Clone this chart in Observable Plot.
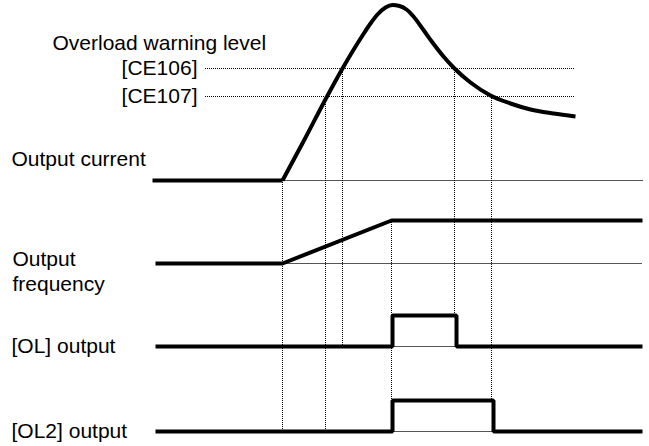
<!DOCTYPE html>
<html>
<head>
<meta charset="utf-8">
<script src="https://cdn.jsdelivr.net/npm/d3@7"></script>
<script src="https://cdn.jsdelivr.net/npm/@observablehq/plot@0.6"></script>
<style>
  html, body { margin: 0; padding: 0; background: #fff; }
  #chart svg { display: block; }
</style>
</head>
<body>
<div id="chart"></div>
<script>
// ---------------- DATA (time runs left→right, level = picture row, larger = lower) ----------------
// key instants on the time axis
const eventNames = ["begin", "rise", "up107", "up106", "accelEnd", "down106", "down107", "end"];
const eventTimes = [152, 282, 325, 342, 391, 454, 491, 642];

// overload warning levels
const warnNames  = ["[CE106]", "[CE107]"];
const warnLevels = [68, 96];

// output current (rise, peak, decay)
const currentTime  = [282, 304, 326, 342, 352, 362, 370, 377, 385, 392, 399, 406, 413, 423, 432, 443, 454, 470, 490, 510, 530, 553, 575];
const currentLevel = [180, 139, 97, 68, 51, 35, 23, 14, 7, 4.5, 5.5, 9, 16, 29.5, 42, 56, 68, 82, 95, 103, 109, 113, 116];
const currentIdle  = 180;

// output frequency (idle → ramp → plateau)
const freqTime  = [155, 282, 391, 642];
const freqLevel = [263, 263, 220, 220];

// [OL] output
const olTime  = [155, 392, 392, 456, 456, 642];
const olLevel = [346, 346, 315, 315, 346, 346];

// [OL2] output
const ol2Time  = [155, 392, 392, 493, 493, 642];
const ol2Level = [431, 431, 400, 400, 431, 431];

// thin reference lines: [start time, end time, level]
const refStart = [282, 282, 392, 392];
const refEnd   = [643, 642, 456, 493];
const refLevel = [180, 263, 346, 431];

// dotted guides (vertical): time, from level, to level
const guideTime = [282, 325, 342, 391, 454, 491];
const guideFrom = [180, 96, 68, 220, 68, 96];
const guideTo   = [431, 431, 346, 431, 315, 400];
// dotted warning lines span
const warnStart = 205, warnEnd = 575;

// labels
const sideLabels = ["Overload warning level", "Output current", "Output\nfrequency", "[OL] output", "[OL2] output"];

// ---------------- LAYOUT ----------------
const sideLabelX = [52, 11, 12, 11, 11];
const sideLabelY = [49.5, 165.5, 290, 352, 437];
const warnLabelX = 197;
const warnLabelDy = 6.5;

// ---------------- BUILD ----------------
const zip = (xs, ys) => xs.map((x, i) => ({x, y: ys[i]}));
const current = zip(currentTime, currentLevel);
const idleCurrent = [{x: eventTimes[0], y: currentIdle}, {x: eventTimes[1], y: currentIdle}];
const freq = zip(freqTime, freqLevel);
const ol = zip(olTime, olLevel);
const ol2 = zip(ol2Time, ol2Level);
const refs = refStart.map((s, i) => ({x1: s, x2: refEnd[i], y: refLevel[i]}));
const guides = guideTime.map((t, i) => ({x: t, y1: guideFrom[i], y2: guideTo[i]}));
const warns = warnNames.map((n, i) => ({name: n, y: warnLevels[i], x1: warnStart, x2: warnEnd}));
const sides = sideLabels.map((t, i) => ({text: t, x: sideLabelX[i], y: sideLabelY[i]}));

const thick = {stroke: "#000", strokeWidth: 4, strokeLinejoin: "miter", strokeLinecap: "butt"};
const dotted = {stroke: "#000", strokeWidth: 1, strokeDasharray: "1,1"};
const font = {fontSize: 21, fill: "#000", lineAnchor: "bottom", lineHeight: 1.17};

const chart = Plot.plot({
  width: 649,
  height: 446,
  margin: 0,
  x: {domain: [0, 649], range: [0, 649], axis: null},
  y: {domain: [0, 446], range: [0, 446], axis: null},
  style: {fontFamily: "Arial, 'Liberation Sans', sans-serif", background: "#fff"},
  marks: [
    Plot.ruleY(refs, {y: "y", x1: "x1", x2: "x2", stroke: "#555", strokeWidth: 1.2}),
    Plot.ruleY(warns, {y: "y", x1: "x1", x2: "x2", ...dotted}),
    Plot.ruleX(guides, {x: "x", y1: "y1", y2: "y2", ...dotted}),
    Plot.line(idleCurrent, {x: "x", y: "y", ...thick}),
    Plot.line(current, {x: "x", y: "y", ...thick, strokeLinejoin: "round", curve: "monotone-x"}),
    Plot.line(freq, {x: "x", y: "y", ...thick}),
    Plot.line(ol, {x: "x", y: "y", ...thick}),
    Plot.line(ol2, {x: "x", y: "y", ...thick}),
    Plot.text(sides, {x: "x", y: "y", text: "text", textAnchor: "start", ...font}),
    Plot.text(warns, {x: () => warnLabelX, y: "y", dy: warnLabelDy, text: "name", textAnchor: "end", ...font})
  ]
});
document.getElementById("chart").appendChild(chart);
</script>
</body>
</html>
